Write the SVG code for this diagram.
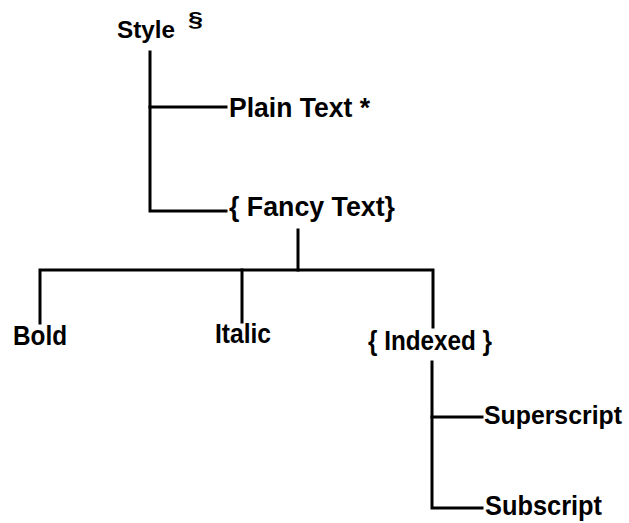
<svg xmlns="http://www.w3.org/2000/svg" width="629" height="523" viewBox="0 0 629 523">
  <style>
    .lbl { font-family: "Liberation Sans", Arial, sans-serif; font-weight: bold; font-size: 27px; fill: #000; }
    .sup { font-family: "Liberation Sans", Arial, sans-serif; font-weight: bold; font-size: 21px; fill: #000; }
    .wire { fill: none; stroke: #000; stroke-width: 3; stroke-linecap: square; stroke-linejoin: miter; }
  </style>
  <rect width="629" height="523" fill="#fff"/>

  <!-- tree connectors -->
  <g id="connectors" class="wire">
    <path d="M150 52 V211 H226"/>
    <path d="M150 107 H226"/>
    <path d="M298 230 V270"/>
    <path d="M40 323 V270 H433 V327"/>
    <path d="M242 270 V322"/>
    <path d="M432 362 V508 H482"/>
    <path d="M432 417 H482"/>
  </g>

  <g id="style">
    <text class="lbl" x="117" y="38" textLength="58" lengthAdjust="spacingAndGlyphs" style="font-size:24px">Style</text>
    <text class="sup" x="188" y="26" textLength="15" lengthAdjust="spacingAndGlyphs">§</text>
  </g>
  <g id="plain-text">
    <text class="lbl" x="229" y="117" textLength="141" lengthAdjust="spacingAndGlyphs">Plain Text *</text>
  </g>
  <g id="fancy-text">
    <text class="lbl" x="229" y="216" textLength="166" lengthAdjust="spacingAndGlyphs">{ Fancy Text}</text>
  </g>
  <g id="bold">
    <text class="lbl" x="13" y="345" textLength="54" lengthAdjust="spacingAndGlyphs">Bold</text>
  </g>
  <g id="italic">
    <text class="lbl" x="215" y="343" textLength="56" lengthAdjust="spacingAndGlyphs">Italic</text>
  </g>
  <g id="indexed">
    <text class="lbl" x="368" y="350" textLength="124" lengthAdjust="spacingAndGlyphs">{ Indexed }</text>
  </g>
  <g id="superscript">
    <text class="lbl" x="484" y="424" textLength="138" lengthAdjust="spacingAndGlyphs" style="font-size:25px">Superscript</text>
  </g>
  <g id="subscript">
    <text class="lbl" x="485" y="515" textLength="117" lengthAdjust="spacingAndGlyphs">Subscript</text>
  </g>
</svg>
